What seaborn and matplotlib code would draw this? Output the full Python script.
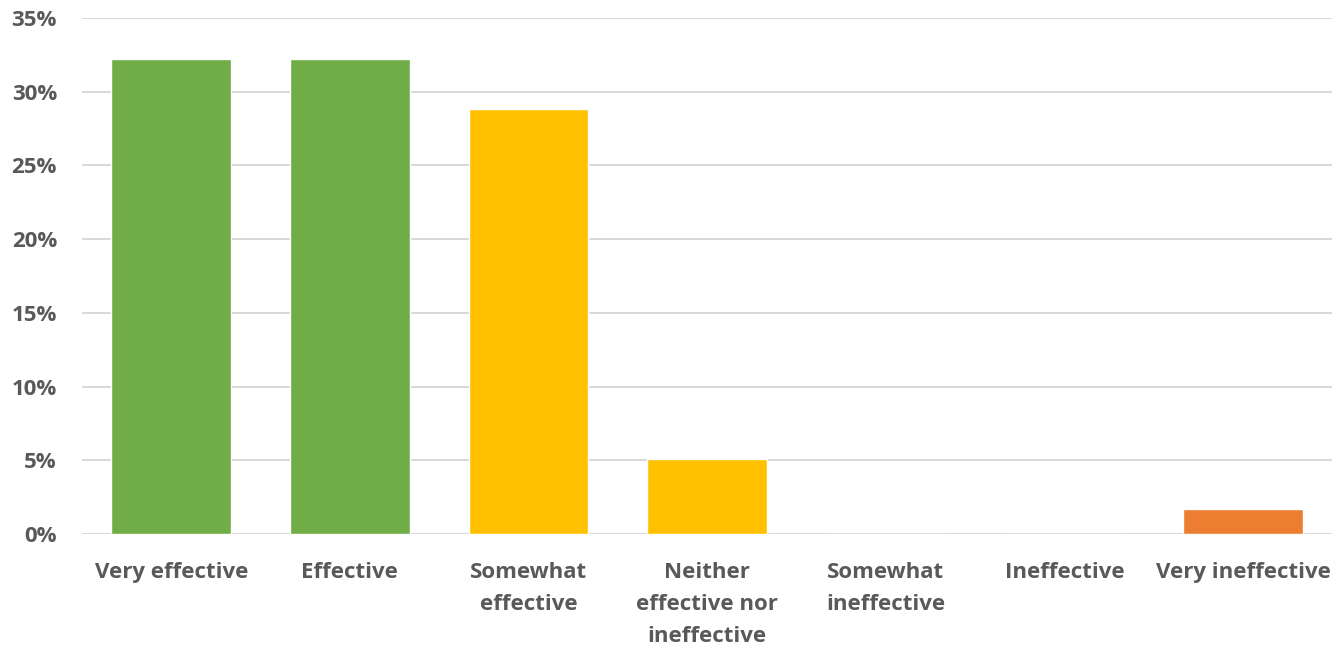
import matplotlib
matplotlib.use("Agg")
import matplotlib.pyplot as plt
import seaborn as sns
import pandas as pd
from matplotlib.ticker import PercentFormatter

# chart data
categories = ["Very effective", "Effective", "Somewhat\neffective",
              "Neither\neffective nor\nineffective", "Somewhat\nineffective",
              "Ineffective", "Very ineffective"]
shares = [32.2, 32.2, 28.8, 5.1, 0.0, 0.0, 1.7]
bar_colors = ["#70AD47", "#70AD47", "#FFC000", "#FFC000", "#FFC000", "#ED7D31", "#ED7D31"]

df = pd.DataFrame({"category": categories, "share": shares})

sns.set_theme(style="white")
plt.rcParams["font.family"] = ["Open Sans", "DejaVu Sans"]
plt.rcParams["font.weight"] = "bold"

fig = plt.figure(figsize=(13.33, 6.46), dpi=100)
ax = fig.add_axes([0.0615, 0.1734, 0.9380, 0.7987])

sns.barplot(data=df, x="category", y="share", hue="category", palette=bar_colors,
            legend=False, width=0.67, saturation=1, ax=ax, zorder=3)

ax.set_ylim(0, 35)
ax.set_yticks(range(0, 36, 5))
ax.yaxis.set_major_formatter(PercentFormatter(decimals=0))
ax.grid(axis="y", color="#D9D9D9", linewidth=1.5, zorder=0)
ax.set_axisbelow(True)
for s in ax.spines.values():
    s.set_visible(False)
ax.set_xlabel("")
ax.set_ylabel("")
ax.tick_params(axis="x", length=0, pad=20, labelsize=16, labelcolor="#595959")
ax.tick_params(axis="y", length=0, pad=18, labelsize=16, labelcolor="#595959")
for lbl in ax.get_xticklabels():
    lbl.set_fontweight("bold")
    lbl.set_linespacing(1.68)
    lbl.set_verticalalignment("top")
for lbl in ax.get_yticklabels():
    lbl.set_fontweight("bold")

fig.savefig("out.png", dpi=100)
